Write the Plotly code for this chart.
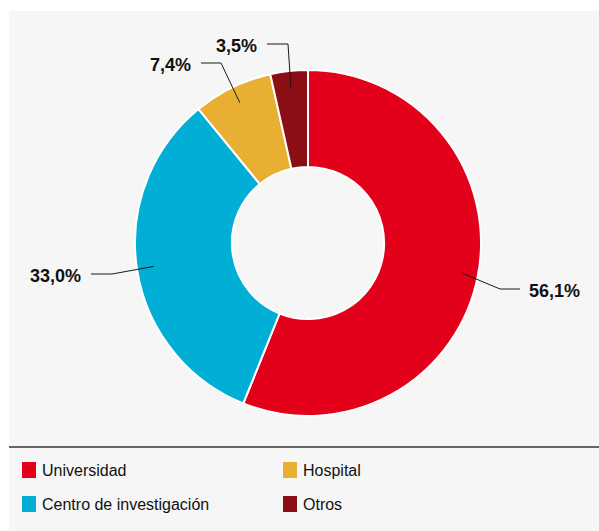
import math
import plotly.graph_objects as go

# Distribution by type of institution (%)
categories = ["Universidad", "Centro de investigación", "Hospital", "Otros"]
values = [56.1, 33.0, 7.4, 3.5]
colors = ["#E2001A", "#00AED6", "#E8AF33", "#8B0E14"]

W, H = 599, 531
FONT = "Liberation Sans, Arial, Helvetica, sans-serif"

# donut geometry in pixels
CX, CY, R_OUT = 308, 243, 173
HOLE = 0.44
R_LEAD = 156  # radius where leader lines start

# leader elbow / end points and label side for each slice (pixels)
elbows = [(500, 289), (112, 274), (221, 63), (288, 44)]
ends = [(520, 289), (91, 274), (201, 63), (267, 44)]
sides = ["right", "left", "left", "left"]


def px(x):
    return x / W


def py(y):
    return 1 - y / H


fig = go.Figure()
fig.add_trace(go.Pie(
    labels=categories,
    values=values,
    sort=False,
    direction="clockwise",
    rotation=0,
    hole=HOLE,
    marker=dict(colors=colors, line=dict(color="white", width=2)),
    textinfo="none",
    hoverinfo="label+percent",
    showlegend=False,
    domain=dict(x=[px(CX - R_OUT), px(CX + R_OUT)],
                y=[py(CY + R_OUT), py(CY - R_OUT)]),
))

shapes = [
    # panel background
    dict(type="rect", xref="paper", yref="paper", x0=px(9), x1=1, y0=0, y1=py(11),
         fillcolor="#F6F6F6", line=dict(width=0), layer="below"),
    # separator above the legend
    dict(type="line", xref="paper", yref="paper", x0=px(9), x1=1, y0=py(447), y1=py(447),
         line=dict(color="#333333", width=1.5)),
]
annotations = []

total = sum(values)
cum = 0.0
for v, el, en, side in zip(values, elbows, ends, sides):
    mid = (cum + v / 2) / total * 2 * math.pi
    cum += v
    sx = CX + R_LEAD * math.sin(mid)
    sy = CY - R_LEAD * math.cos(mid)
    for (x0, y0), (x1, y1) in [((sx, sy), el), (el, en)]:
        shapes.append(dict(type="line", xref="paper", yref="paper",
                           x0=px(x0), y0=py(y0), x1=px(x1), y1=py(y1),
                           line=dict(color="#1A1A1A", width=1)))
    label = f"{v:.1f}".replace(".", ",") + "%"
    if side == "right":
        ax, anchor = en[0] + 7, "left"
    else:
        ax, anchor = en[0] - 8, "right"
    annotations.append(dict(x=px(ax), y=py(en[1] + 2), xref="paper", yref="paper",
                            text=f"<b>{label}</b>", showarrow=False,
                            xanchor=anchor, yanchor="middle",
                            font=dict(family=FONT, size=18, color="#111111")))

# legend: two columns, filled top-to-bottom
legend_cols = [22, 283]
legend_rows = [470, 504]
for i, (name, col) in enumerate(zip(categories, colors)):
    c = legend_cols[i // 2]
    r = legend_rows[i % 2]
    shapes.append(dict(type="rect", xref="paper", yref="paper",
                       x0=px(c), x1=px(c + 14), y0=py(r + 8), y1=py(r - 8),
                       fillcolor=col, line=dict(width=0)))
    annotations.append(dict(x=px(c + 18), y=py(r), xref="paper", yref="paper",
                            text=name, showarrow=False, xanchor="left", yanchor="middle",
                            font=dict(family=FONT, size=16, color="#111111")))

fig.update_layout(
    width=W, height=H,
    margin=dict(l=0, r=0, t=0, b=0),
    paper_bgcolor="white",
    plot_bgcolor="white",
    shapes=shapes,
    annotations=annotations,
    showlegend=False,
)

fig.write_html("out.html")
